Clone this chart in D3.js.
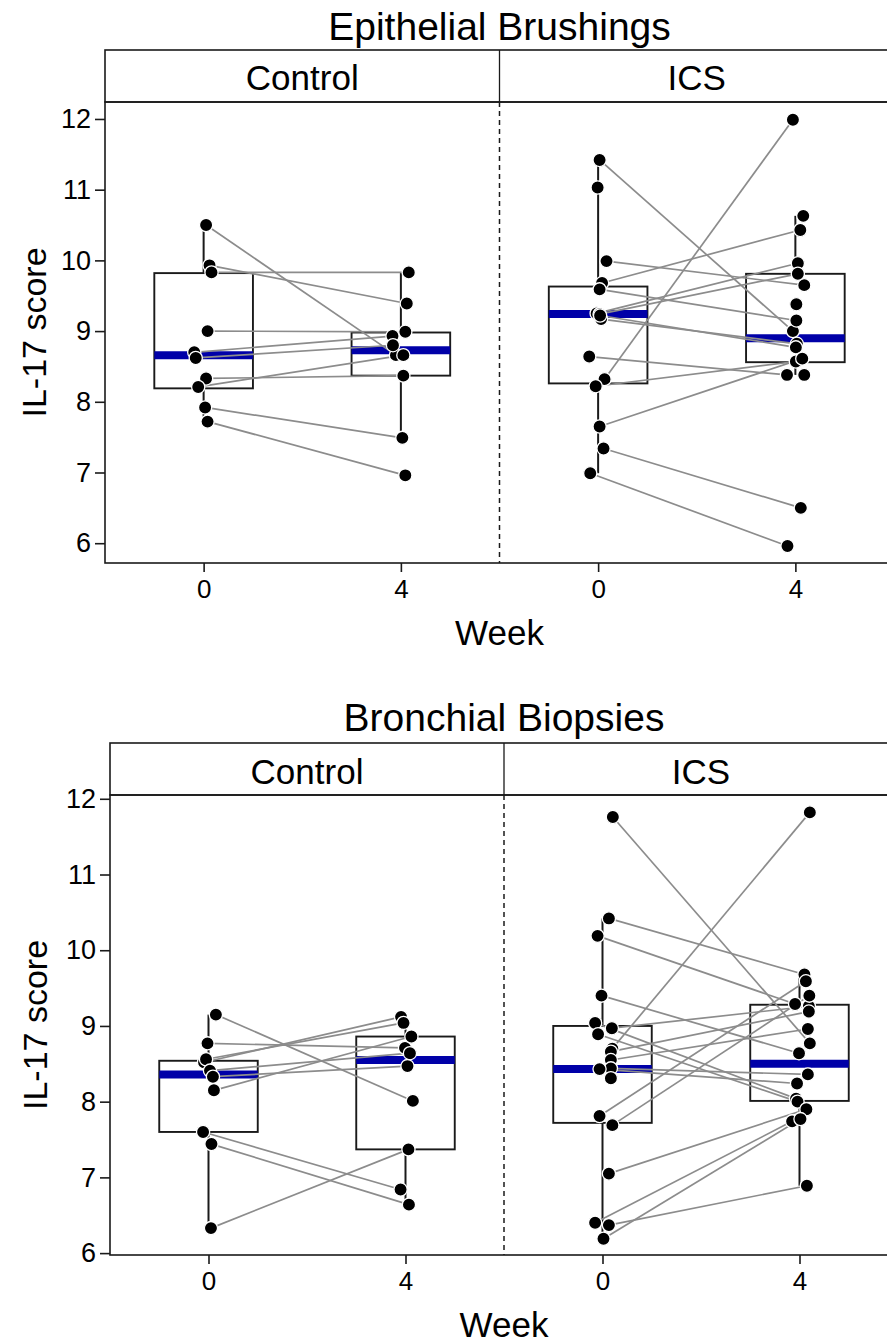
<!DOCTYPE html>
<html>
<head>
<meta charset="utf-8">
<script src="https://cdn.jsdelivr.net/npm/d3@7"></script>
<style>
  html, body { margin: 0; padding: 0; background: #fff; }
  svg { display: block; font-family: "Liberation Sans", Arial, Helvetica, sans-serif; }
</style>
</head>
<body>
<svg id="fig" width="887" height="1343"></svg>
<script>
// ---- shared categories and ticks ----
const weeks = [0, 4];
const arms = ["Control", "ICS"];
const yTicks = [6, 7, 8, 9, 10, 11, 12];

// ---- Epithelial brushings: IL-17 score per subject (null = no sample) ----
// Control arm
const brushCtrlWk0 = [10.50, 9.93, 9.83, 9.00, 8.70, 8.62, 8.33, 8.21, 7.92, 7.72];
const brushCtrlWk4 = [8.66, 9.39, 9.83, 8.99, 8.93, 8.80, 8.37, 8.66, 7.49, 6.96];
const brushCtrlJit0 = [0.05, 0.12, 0.16, 0.08, -0.19, -0.16, 0.05, -0.11, 0.03, 0.08];
const brushCtrlJit4 = [-0.10, 0.12, 0.16, 0.09, -0.17, -0.16, 0.05, 0.05, 0.03, 0.09];
// ICS arm
const brushIcsWk0 = [11.42, 11.03, 9.99, 9.68, 9.59, 9.25, 9.24, 9.17, 9.22, 8.64, 8.32, 8.22, 7.65, 7.34, 6.99, null, null, null];
const brushIcsWk4 = [9.00, null, 9.65, 10.43, 9.15, 9.96, 9.81, 8.82, 8.77, 8.38, 11.99, 8.57, 8.61, 6.50, 5.96, 10.63, 9.38, 8.38];
const brushIcsJit0 = [0.03, -0.01, 0.17, 0.08, 0.03, -0.03, 0.03, 0.06, 0.04, -0.18, 0.13, -0.05, 0.03, 0.11, -0.16, 0, 0, 0];
const brushIcsJit4 = [-0.05, 0, 0.18, 0.10, 0.02, 0.05, 0.05, 0.03, 0.01, -0.17, -0.05, 0.01, 0.14, 0.11, -0.16, 0.16, 0.02, 0.18];
// box summaries: [lower whisker, Q1, median, Q3, upper whisker]
const brushCtrlBox0 = [7.72, 8.19, 8.66, 9.82, 10.50];
const brushCtrlBox4 = [7.49, 8.37, 8.73, 8.98, 9.83];
const brushIcsBox0 = [6.99, 8.26, 9.24, 9.63, 11.42];
const brushIcsBox4 = [8.38, 8.56, 8.90, 9.81, 10.63];

// ---- Bronchial biopsies: IL-17 score per subject (null = no sample) ----
// Control arm
const biopCtrlWk0 = [9.15, 8.77, 8.52, 8.56, 8.41, 8.33, 8.15, 7.60, 7.44, 6.33];
const biopCtrlWk4 = [8.01, 8.71, 9.12, 9.04, 8.64, 8.47, 8.86, 6.84, 6.64, 7.37];
const biopCtrlJit0 = [0.15, -0.02, -0.09, -0.05, 0.03, 0.09, 0.11, -0.11, 0.06, 0.05];
const biopCtrlJit4 = [0.15, -0.01, -0.09, -0.04, 0.09, 0.04, 0.12, -0.10, 0.07, 0.06];
// ICS arm
const biopIcsWk0 = [11.76, 10.42, 10.19, 9.40, 9.04, 8.97, 8.89, 8.70, 8.66, 8.55, 8.44, 8.43, 8.31, 7.81, 7.69, 7.05, 6.40, 6.37, 6.19];
const biopIcsWk4 = [8.77, 9.68, 9.29, 8.64, 8.04, 9.26, 8.00, 11.82, 9.19, 8.96, 8.36, 8.24, null, 9.59, 9.40, 7.90, 7.74, 6.89, 7.77];
const biopIcsJit0 = [0.21, 0.13, -0.10, -0.02, -0.15, 0.19, -0.09, 0.20, 0.17, 0.17, 0.17, -0.06, 0.17, -0.06, 0.20, 0.13, -0.15, 0.13, 0.02];
const biopIcsJit4 = [0.21, 0.10, -0.09, -0.01, -0.07, 0.19, -0.04, 0.21, 0.19, 0.17, 0.17, -0.05, 0, 0.13, 0.20, 0.14, -0.15, 0.15, 0.02];
// box summaries: [lower whisker, Q1, median, Q3, upper whisker]
const biopCtrlBox0 = [6.33, 7.60, 8.36, 8.54, 9.15];
const biopCtrlBox4 = [6.64, 7.37, 8.55, 8.86, 9.12];
const biopIcsBox0 = [6.19, 7.72, 8.43, 9.00, 10.42];
const biopIcsBox4 = [6.89, 8.01, 8.50, 9.28, 9.68];

// ---- styling ----
const FRAME = "#1a1a1a";
const MEDIAN = "#0000a8";
const PAIR = "#8c8c8c";

const svg = d3.select("#fig");

function buildPanel(wk0, wk4, jit0, jit4, box0, box4) {
  return {
    subjects: wk0.map((v, i) => ({ w0: v, w4: wk4[i], j0: jit0[i], j4: jit4[i] })),
    boxes: [{ week: 0, s: box0 }, { week: 4, s: box4 }]
  };
}

function drawFigure(cfg) {
  const g = svg.append("g");
  const { left, panelW, stripTop, plotTop, plotBottom } = cfg;
  const totalW = panelW * arms.length;

  const y = d3.scaleLinear().domain(cfg.yDomain).range([plotBottom, plotTop]);

  // title
  g.append("text")
    .attr("x", left + totalW / 2).attr("y", cfg.titleY)
    .attr("text-anchor", "middle").attr("font-size", 39).attr("fill", "#000")
    .text(cfg.title);

  // strip with arm names
  g.append("rect")
    .attr("x", left).attr("y", stripTop).attr("width", totalW).attr("height", plotTop - stripTop)
    .attr("fill", "#fff").attr("stroke", FRAME).attr("stroke-width", 1.6);
  g.append("line")
    .attr("x1", left + panelW).attr("x2", left + panelW)
    .attr("y1", stripTop).attr("y2", plotTop)
    .attr("stroke", FRAME).attr("stroke-width", 1.3);
  arms.forEach((a, i) => {
    g.append("text")
      .attr("x", left + panelW * (i + 0.5)).attr("y", cfg.stripTextY)
      .attr("text-anchor", "middle").attr("font-size", 35).attr("fill", "#000")
      .text(a);
  });

  // panels
  cfg.panels.forEach((p, i) => {
    const x0 = left + panelW * i;
    const x = d3.scaleLinear().domain([-2, 6]).range([x0, x0 + panelW]);
    const pg = g.append("g");
    const halfBox = x(1) - x(0);

    // boxes with whiskers and median bar
    p.boxes.forEach(b => {
      const [lo, q1, med, q3, hi] = b.s;
      const cx = x(b.week);
      pg.append("line").attr("x1", cx).attr("x2", cx).attr("y1", y(q3)).attr("y2", y(hi))
        .attr("stroke", FRAME).attr("stroke-width", 2);
      pg.append("line").attr("x1", cx).attr("x2", cx).attr("y1", y(q1)).attr("y2", y(lo))
        .attr("stroke", FRAME).attr("stroke-width", 2);
      pg.append("rect")
        .attr("x", cx - halfBox).attr("y", y(q3))
        .attr("width", halfBox * 2).attr("height", y(q1) - y(q3))
        .attr("fill", "#fff").attr("stroke", FRAME).attr("stroke-width", 1.9);
      pg.append("line")
        .attr("x1", cx - halfBox).attr("x2", cx + halfBox)
        .attr("y1", y(med)).attr("y2", y(med))
        .attr("stroke", MEDIAN).attr("stroke-width", 8);
    });

    // subject pairing lines
    pg.selectAll("line.pair")
      .data(p.subjects.filter(s => s.w0 != null && s.w4 != null))
      .join("line").attr("class", "pair")
      .attr("x1", s => x(0 + s.j0)).attr("y1", s => y(s.w0))
      .attr("x2", s => x(4 + s.j4)).attr("y2", s => y(s.w4))
      .attr("stroke", PAIR).attr("stroke-width", 1.7);

    // individual observations
    const pts = [];
    p.subjects.forEach(s => {
      if (s.w0 != null) pts.push({ wk: 0 + s.j0, v: s.w0 });
      if (s.w4 != null) pts.push({ wk: 4 + s.j4, v: s.w4 });
    });
    pg.selectAll("circle.obs")
      .data(pts).join("circle").attr("class", "obs")
      .attr("cx", d => x(d.wk)).attr("cy", d => y(d.v)).attr("r", 6.6)
      .attr("fill", "#000").attr("stroke", "#fff").attr("stroke-width", 1.3);

    // x axis per panel
    const xa = g.append("g")
      .attr("transform", `translate(0,${plotBottom})`)
      .call(d3.axisBottom(x).tickValues(weeks).tickSize(9).tickPadding(8).tickFormat(d3.format("d")));
    xa.select(".domain").remove();
    xa.selectAll("line").attr("stroke", FRAME).attr("stroke-width", 1.6);
    xa.selectAll("text").attr("font-size", 26).attr("fill", "#000").attr("font-family", null);

    // dashed panel divider
    if (i > 0) {
      g.append("line")
        .attr("x1", x0).attr("x2", x0).attr("y1", plotTop).attr("y2", plotBottom)
        .attr("stroke", FRAME).attr("stroke-width", 1.5).attr("stroke-dasharray", "5,4");
    }
  });

  // plotting frame
  g.append("rect")
    .attr("x", left).attr("y", plotTop).attr("width", totalW).attr("height", plotBottom - plotTop)
    .attr("fill", "none").attr("stroke", FRAME).attr("stroke-width", 1.6);

  // y axis
  const ya = g.append("g")
    .attr("transform", `translate(${left},0)`)
    .call(d3.axisLeft(y).tickValues(yTicks).tickSize(10).tickPadding(4).tickFormat(d3.format("d")));
  ya.select(".domain").remove();
  ya.selectAll("line").attr("stroke", FRAME).attr("stroke-width", 1.6);
  ya.selectAll("text").attr("font-size", 27).attr("fill", "#000").attr("font-family", null);

  // axis titles
  g.append("text")
    .attr("transform", `translate(${cfg.yLabX},${(plotTop + plotBottom) / 2}) rotate(-90)`)
    .attr("text-anchor", "middle").attr("font-size", 34).attr("fill", "#000")
    .text("IL-17 score");
  g.append("text")
    .attr("x", left + totalW / 2).attr("y", cfg.weekY)
    .attr("text-anchor", "middle").attr("font-size", 35).attr("fill", "#000")
    .text("Week");
}

drawFigure({
  title: "Epithelial Brushings",
  left: 105, panelW: 394.5,
  stripTop: 50, plotTop: 102, plotBottom: 563,
  yDomain: [5.72, 12.24],
  titleY: 40, stripTextY: 90, weekY: 645, yLabX: 46,
  panels: [
    buildPanel(brushCtrlWk0, brushCtrlWk4, brushCtrlJit0, brushCtrlJit4, brushCtrlBox0, brushCtrlBox4),
    buildPanel(brushIcsWk0, brushIcsWk4, brushIcsJit0, brushIcsJit4, brushIcsBox0, brushIcsBox4)
  ]
});

drawFigure({
  title: "Bronchial Biopsies",
  left: 110, panelW: 394,
  stripTop: 743, plotTop: 795, plotBottom: 1255,
  yDomain: [5.975, 12.05],
  titleY: 731, stripTextY: 784, weekY: 1337, yLabX: 47,
  panels: [
    buildPanel(biopCtrlWk0, biopCtrlWk4, biopCtrlJit0, biopCtrlJit4, biopCtrlBox0, biopCtrlBox4),
    buildPanel(biopIcsWk0, biopIcsWk4, biopIcsJit0, biopIcsJit4, biopIcsBox0, biopIcsBox4)
  ]
});
</script>
</body>
</html>
